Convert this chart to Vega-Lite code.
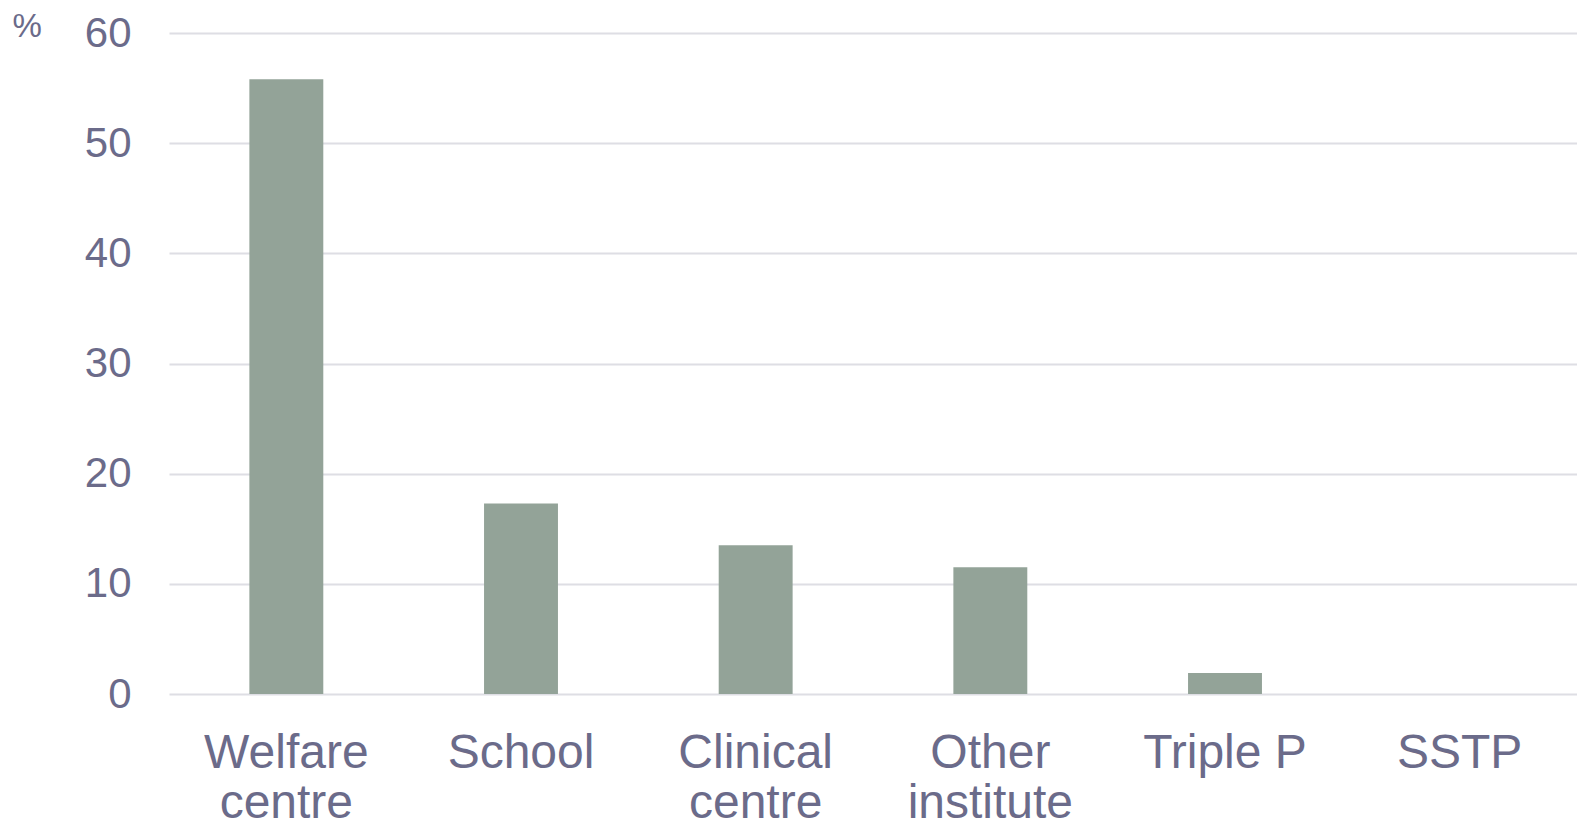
{
  "$schema": "https://vega.github.io/schema/vega-lite/v6.json",
  "width": 1408,
  "height": 661,
  "autosize": {"type": "none"},
  "padding": {"left": 169, "top": 33, "right": 0, "bottom": 130},
  "background": "white",
  "config": {
    "view": {"stroke": null},
    "font": "Liberation Sans"
  },
  "data": {
    "values": [
      {"setting": "Welfare centre", "pct": 55.8},
      {"setting": "School", "pct": 17.3},
      {"setting": "Clinical centre", "pct": 13.5},
      {"setting": "Other institute", "pct": 11.5},
      {"setting": "Triple P", "pct": 1.9},
      {"setting": "SSTP", "pct": 0}
    ]
  },
  "mark": {"type": "bar", "color": "#93a398"},
  "encoding": {
    "x": {
      "field": "setting",
      "type": "nominal",
      "sort": null,
      "scale": {"paddingInner": 0.685, "paddingOuter": 0.3425},
      "axis": {
        "title": null,
        "labelAngle": 0,
        "domain": false,
        "ticks": false,
        "labelPadding": 35,
        "labelFontSize": 48,
        "labelColor": "#6b6b8a",
        "labelLineHeight": 50,
        "labelExpr": "datum.label == 'Triple P' ? datum.label : split(datum.label, ' ')"
      }
    },
    "y": {
      "field": "pct",
      "type": "quantitative",
      "scale": {"domain": [0, 60], "nice": false},
      "axis": {
        "values": [0, 10, 20, 30, 40, 50, 60],
        "title": "%",
        "titleAngle": 0,
        "titleAlign": "left",
        "titleBaseline": "top",
        "titleX": -157,
        "titleY": -23,
        "titleFontSize": 33,
        "titleFontWeight": "normal",
        "titleColor": "#6b6b8a",
        "domain": false,
        "ticks": false,
        "labelPadding": 38,
        "labelFontSize": 42,
        "labelColor": "#6b6b8a",
        "gridColor": "#dedee4",
        "gridWidth": 2
      }
    }
  }
}
